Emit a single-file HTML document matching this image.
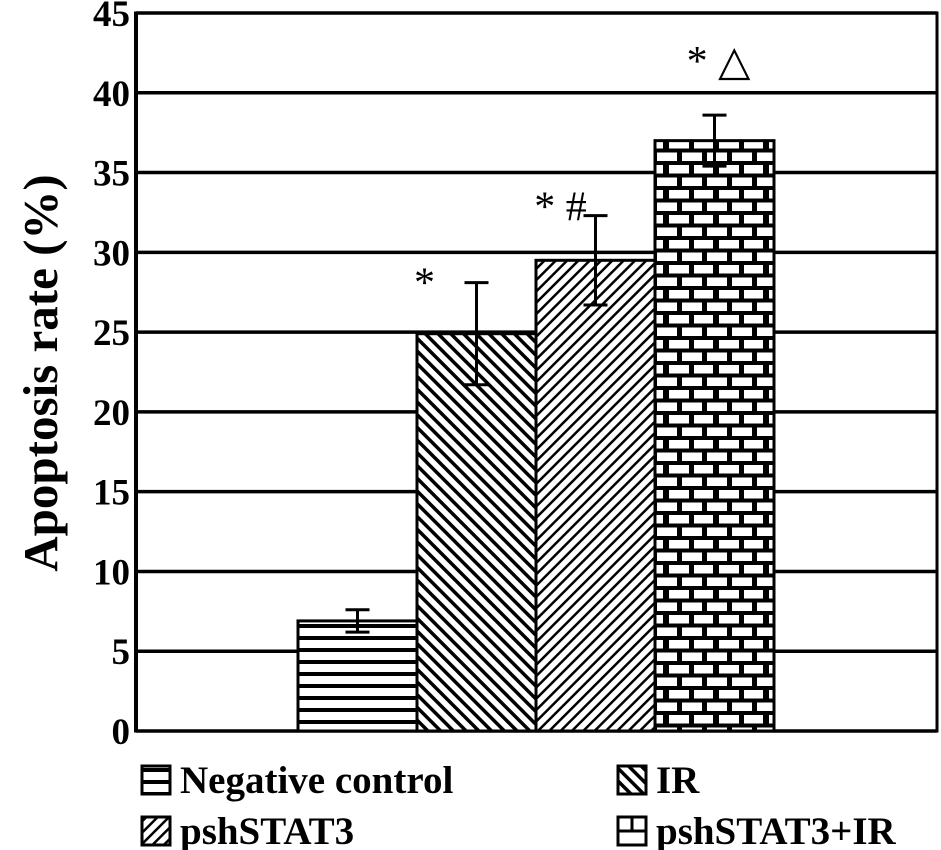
<!DOCTYPE html>
<html><head><meta charset="utf-8"><style>
html,body{margin:0;padding:0;background:#fff;}
svg{display:block;font-family:"Liberation Serif",serif;font-weight:bold;}
</style></head><body>
<svg id="chart" width="941" height="850" viewBox="0 0 941 850">
<defs>
<pattern id="pHoriz" width="12" height="12" patternUnits="userSpaceOnUse"><rect width="12" height="12" fill="#fff"/><rect y="0" width="12" height="4" fill="#000"/></pattern>
<pattern id="pIR" width="9" height="9" patternUnits="userSpaceOnUse" patternTransform="rotate(-45)"><rect width="9" height="9" fill="#fff"/><rect x="0" width="3.5" height="9" fill="#000"/></pattern>
<pattern id="pPsh" width="8" height="8" patternUnits="userSpaceOnUse" patternTransform="rotate(45)"><rect width="8" height="8" fill="#fff"/><rect x="0" width="2.5" height="8" fill="#000"/></pattern>
<pattern id="pBrick" x="654" y="0" width="50" height="25" patternUnits="userSpaceOnUse"><rect width="50" height="25" fill="#000"/><rect x="3" y="2.5" width="20" height="8.5" fill="#fff"/><rect x="28" y="2.5" width="20" height="8.5" fill="#fff"/><rect x="-9" y="15" width="18" height="8.5" fill="#fff"/><rect x="15" y="15" width="20" height="8.5" fill="#fff"/><rect x="40" y="15" width="20" height="8.5" fill="#fff"/></pattern>
</defs>
<g id="grid"></g>
<g id="bars"></g>
<g id="axes"></g>
<text x="0" y="0" transform="translate(57,373) rotate(-90)" text-anchor="middle" font-size="49">Apoptosis rate (%)</text>
<g id="legend">
<g><rect x="142" y="766" width="28" height="28" fill="url(#pHoriz)" stroke="#000" stroke-width="3"/><text x="180" y="793" font-size="39">Negative control</text></g>
<g><rect x="618" y="766" width="28" height="28" fill="url(#pIR)" stroke="#000" stroke-width="3"/><text x="656" y="793" font-size="39">IR</text></g>
<g><rect x="142" y="817" width="28" height="28" fill="url(#pPsh)" stroke="#000" stroke-width="3"/><text x="180" y="844" font-size="39">pshSTAT3</text></g>
<g><rect x="618" y="817" width="28" height="28" fill="#fff" stroke="#000" stroke-width="3"/><line x1="618" y1="831" x2="646" y2="831" stroke="#000" stroke-width="3"/><line x1="632" y1="817" x2="632" y2="831" stroke="#000" stroke-width="3"/><text x="656" y="844" font-size="39">pshSTAT3+IR</text></g>
</g>
</svg>
<script>
const categories = ["Negative control","IR","pshSTAT3","pshSTAT3+IR"];
const values = [6.9, 24.9, 29.5, 37.0];
const errors = [0.7, 3.2, 2.8, 1.6];
const marks = ["", "*", "* #", "* \u25B3"];
const yTicks = [0,5,10,15,20,25,30,35,40,45];
const fills = ["url(#pHoriz)","url(#pIR)","url(#pPsh)","url(#pBrick)"];

const NS="http://www.w3.org/2000/svg";
const x0=136,x1=937,yTop=13,yBot=731,yMax=45;
const barStart=298,barW=119;
const markDx=[0,-52,-35,4];
const markDy=[0,14,5,-40];
function y(v){return yBot-(v/yMax)*(yBot-yTop);}
function bx(i){return barStart+i*barW;}
function mk(tag,attrs,parent){const e=document.createElementNS(NS,tag);for(const k in attrs)e.setAttribute(k,attrs[k]);parent.appendChild(e);return e;}
const grid=document.getElementById('grid'),bars=document.getElementById('bars'),axes=document.getElementById('axes');
yTicks.forEach(t=>{
  const l=mk('line',{x1:x0,x2:x1,y1:y(t),y2:y(t),stroke:'#000','stroke-width':3.5},grid);
  
  
  const tx=mk('text',{x:x0-6,y:y(t)+13,'text-anchor':'end','font-size':37},axes);
  tx.textContent=t;
  
  
});
const ax=mk('line',{x1:x0,x2:x0,y1:yTop-1.5,y2:yBot+1.5,stroke:'#000','stroke-width':4},axes);


const rx=mk('line',{x1:x1,x2:x1,y1:yTop-1.5,y2:yBot+1.5,stroke:'#000','stroke-width':3},axes);


values.forEach((v,i)=>{
  const r=mk('rect',{x:bx(i),y:y(v),width:barW,height:yBot-y(v),fill:fills[i],stroke:'#000','stroke-width':3},bars);
  
  
  const cx=bx(i)+barW/2;
  const e=mk('path',{d:`M${cx},${y(v-errors[i])}V${y(v+errors[i])}M${cx-12},${y(v+errors[i])}H${cx+12}M${cx-12},${y(v-errors[i])}H${cx+12}`,stroke:'#000','stroke-width':3,fill:'none'},bars);
  
  
  if(marks[i]){
    const t=mk('text',{x:cx+markDx[i],y:y(v+errors[i])+markDy[i],'text-anchor':'middle','font-size':42,'font-weight':'normal'},bars);
    t.textContent=marks[i];
    
    
  }
});
</script>
</body></html>
